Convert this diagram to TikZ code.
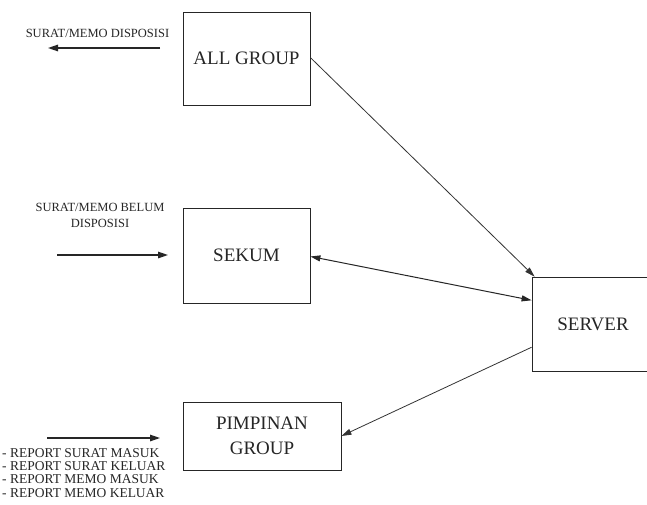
\documentclass[tikz,border=0pt]{standalone}
\usepackage{fontspec}
\setmainfont{Liberation Serif}
\usetikzlibrary{arrows.meta,calc}
\begin{document}
\begin{tikzpicture}[x=1pt,y=-1pt,
  box/.style={draw=black!85, line width=0.8pt, rectangle, inner sep=0pt,
    font=\fontsize{19}{25}\selectfont, text=black!85, align=center},
  lbl/.style={inner sep=0pt, font=\fontsize{12.5}{16}\selectfont, text=black!85, align=center},
  flow/.style={draw=black!85, line width=1.3pt, -{Triangle[length=10pt,width=6.5pt]}},
  link/.style={draw=black!80, line width=0.8pt, -{Triangle[length=10pt,width=6pt]}},
  dlink/.style={draw=black!85, line width=1pt, {Triangle[length=10pt,width=6pt]}-{Triangle[length=10pt,width=6pt]}}]
\clip (0,0) rectangle (647,504);
\useasboundingbox (0,0) rectangle (647,504);
\fill[white] (0,0) rectangle (647,504);

% boxes
\node[box, minimum width=127pt, minimum height=93pt] (allgroup) at (246.5,58.5) {ALL GROUP};
\node[box, minimum width=127pt, minimum height=95pt] (sekum) at (246.5,255.5) {SEKUM};
\node[box, minimum width=158pt, minimum height=68pt] (pimpinan) at (262,436) {PIMPINAN\\GROUP};
\node[box, minimum width=122pt, minimum height=94pt] (server) at (593,324) {SERVER};

% external flows
\coordinate (a1) at (160,48);
\coordinate (a2) at (48,48);
\draw[flow] (a1) -- (a2);
\node[lbl, anchor=base] (lblall) at (97.5,37) {SURAT/MEMO DISPOSISI};

\coordinate (s1) at (57,255);
\coordinate (s2) at (168,255);
\draw[flow] (s1) -- (s2);
\node[lbl, anchor=base] (lblsek) at (100,227) {SURAT/MEMO BELUM\\DISPOSISI};

\coordinate (p1) at (47,438);
\coordinate (p2) at (160,438);
\draw[flow] (p1) -- (p2);
\node[inner sep=0pt, anchor=north west, align=left, text=black!85,
  font=\fontsize{13.5}{13.3}\selectfont] (lblpim) at (2,448)
  {- REPORT SURAT MASUK\\- REPORT SURAT KELUAR\\- REPORT MEMO MASUK\\- REPORT MEMO KELUAR};

% connectors to server
\draw[link] ($(allgroup.north east)!0.49!(allgroup.south east)$) -- ($(server.north west)+(3,0)$);
\draw[dlink] ($(sekum.north east)!0.51!(sekum.south east)$) -- ($(server.north west)!0.25!(server.south west)$);
\draw[link] ($(server.north west)!0.745!(server.south west)$) -- (pimpinan.east);
\end{tikzpicture}
\end{document}
